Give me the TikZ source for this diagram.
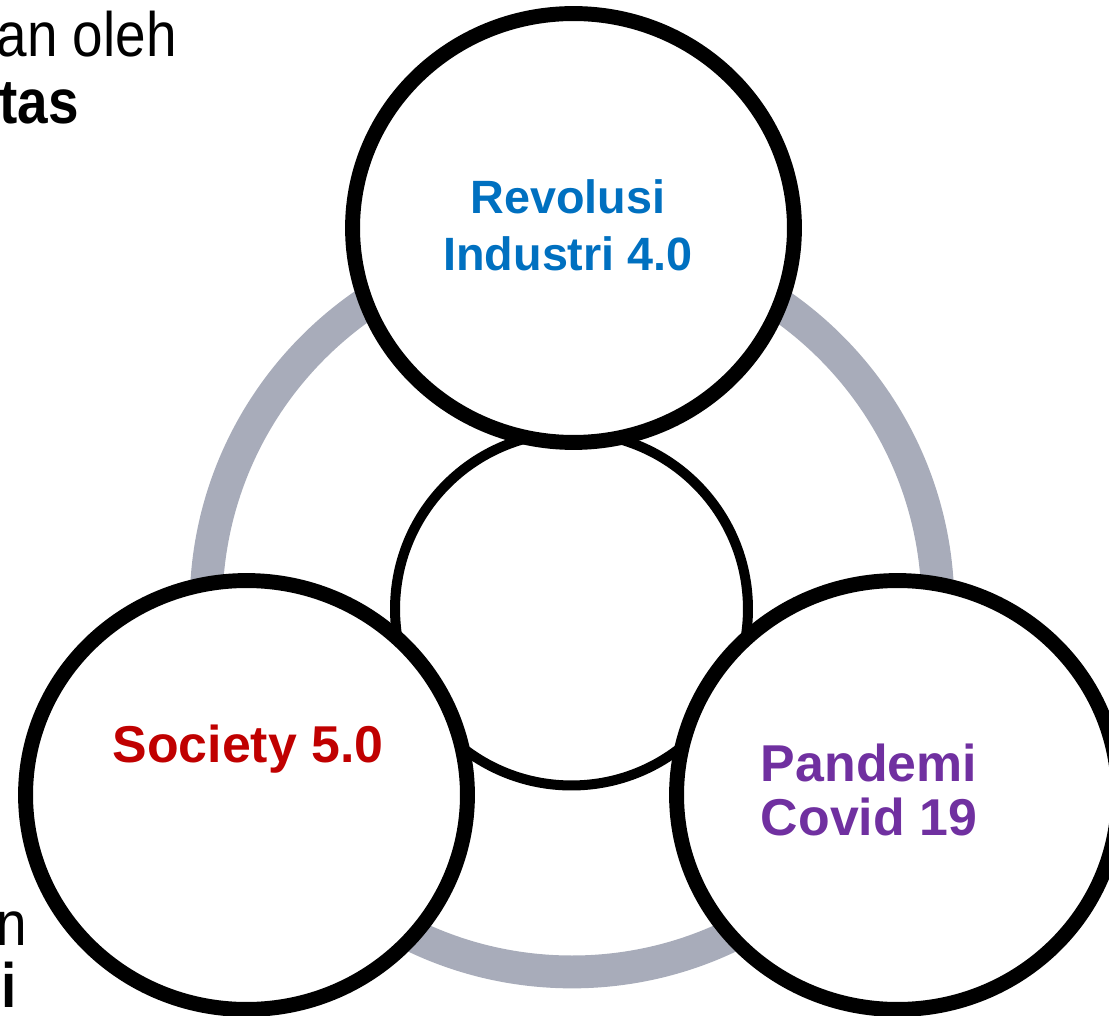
\documentclass[tikz,border=0pt]{standalone}
\usepackage{fontspec}
\setmainfont{Liberation Sans}
\usetikzlibrary{shapes.geometric}

\definecolor{ringgray}{RGB}{168,172,186}
\definecolor{revblue}{RGB}{0,112,192}
\definecolor{socred}{RGB}{192,0,0}
\definecolor{covpurple}{RGB}{112,48,160}

\begin{document}
\begin{tikzpicture}[
        x=0.02cm, y=-0.02cm,
        outerring/.style={circle, draw=ringgray, line width=18.7pt, minimum size=14.64cm, inner sep=0pt},
        hub/.style={circle, draw=black, fill=white, line width=5.7pt, minimum size=7.06cm, inner sep=0pt},
        bigcircle/.style={ellipse, draw=black, fill=white, line width=8.5pt, minimum width=8.84cm, minimum height=8.58cm, inner sep=0pt},
        circletext/.style={align=center, inner sep=0pt, font=\bfseries\fontsize{29.5}{31.2}\selectfont},
        edgetext/.style={inner sep=0pt, anchor=base east, xscale=0.875, transform shape, font=\fontsize{35.7}{38}\selectfont}
    ]
        \useasboundingbox (0,0) rectangle (1109,1016);

% Ring and hub
        \node[outerring] (ring) at (572,606) {};
        \node[hub] (hub) at (571.5,609) {};

% Three circles
        \node[bigcircle] (revolusi) at (573.5,228) {};
        \node[bigcircle] (society) at (246.5,795) {};
        \node[bigcircle] (pandemi) at (897.5,795) {};

% Texts in circles
        \node[circletext, text=revblue, font=\bfseries\fontsize{26.6}{32.3}\selectfont] (revtext) at (568,225) {Revolusi\\Industri 4.0};
        \node[circletext, text=socred] (soctext) at (248,749) {Society 5.0};
        \node[circletext, text=covpurple] (covtext) at (869,790) {Pandemi\\Covid 19};

% Cut-off texts at the edge
        \node[edgetext] (toptextA) at (177,57) {an oleh};
        \node[edgetext, font=\bfseries\fontsize{35.7}{38}\selectfont] (toptextB) at (79,124) {tas};
        \node[edgetext] (lowtextA) at (27,945) {n};
        \node[edgetext, font=\bfseries\fontsize{35.7}{38}\selectfont] (lowtextB) at (17,1007) {i};

    \end{tikzpicture}
\end{document}
